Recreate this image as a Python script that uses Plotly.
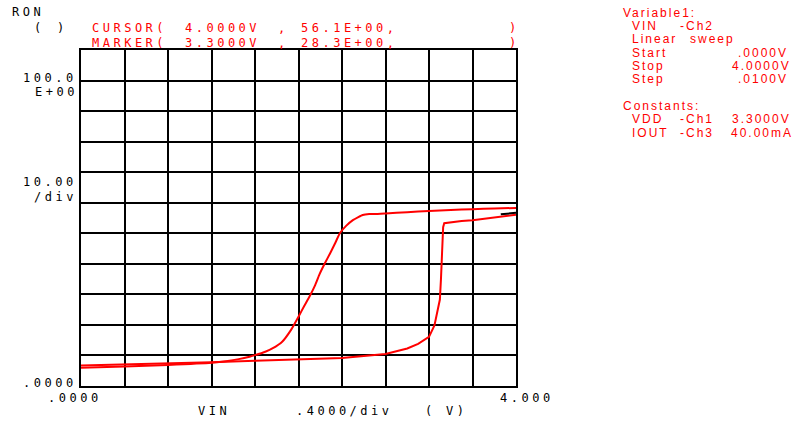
import plotly.graph_objects as go

# ---------------- data ----------------
VIN_A = [0.0, 0.4, 0.8, 1.2, 1.35, 1.45, 1.55, 1.6, 1.7, 1.76, 1.85, 1.93, 2.0, 2.05, 2.1, 2.15, 2.19,
         2.24, 2.29, 2.34, 2.38, 2.44, 2.5, 2.55, 2.59, 2.65, 2.7, 2.8, 3.0, 3.2, 3.4, 3.6, 3.8, 4.0]
RON_A = [6.0, 6.4, 6.9, 7.6, 8.2, 8.8, 9.6, 10.1, 11.3, 12.3, 14.5, 18.3, 22.7, 26.0, 29.2, 32.8, 36.3,
         40.0, 43.4, 47.0, 50.0, 52.5, 54.3, 55.3, 56.0, 56.3, 56.3, 56.5, 56.9, 57.3, 57.6, 57.9, 58.1, 58.3]

VIN_B = [0.0, 0.4, 0.8, 1.2, 1.6, 2.0, 2.4, 2.8, 3.0, 3.1, 3.2, 3.25, 3.28, 3.30, 3.31, 3.32,
         3.33, 3.34, 3.4, 3.5, 3.6, 3.7, 3.8, 3.86, 3.9, 4.0]
RON_B = [6.7, 7.0, 7.4, 7.8, 8.3, 8.7, 9.2, 10.5, 12.3, 13.8, 16.1, 19.8, 24.5, 28.3, 35.0, 42.3,
         52.0, 53.3, 53.6, 54.0, 54.3, 54.8, 55.3, 55.6, 55.7, 56.1]

CURSOR_START_V = 3.86          # black cursor segment start on trace B

X_RANGE = [0.0, 4.0]
X_DIV = 0.4
Y_RANGE = [0.0, 110.0]
Y_DIV = 10.0

Y_LABEL = "RON"
CURSOR_TXT = ["CURSOR(", "4.0000V", ",", "56.1E+00,", ")"]
MARKER_TXT = ["MARKER(", "3.3000V", ",", "28.3E+00,", ")"]
Y_TICK_TOP = ["100.0", "E+00"]
Y_TICK_DIV = ["10.00", "/div"]
Y_TICK_BOTTOM = ".0000"
X_TICK_LEFT = ".0000"
X_TICK_RIGHT = "4.000"
X_TITLE = ["VIN", ".4000/div", "(", "V)"]

PANEL = [
    ("Variable1:", 622.7, 12.7),
    ("VIN", 631.7, 26.0), ("-Ch2", 680.0, 26.0),
    ("Linear", 631.7, 39.3), ("sweep", 690.0, 39.3),
    ("Start", 631.7, 52.7), (".0000V", 738.3, 52.7),
    ("Stop", 631.7, 66.0), ("4.0000V", 731.7, 66.0),
    ("Step", 631.7, 79.3), (".0100V", 738.3, 79.3),
    ("Constants:", 622.7, 106.0),
    ("VDD", 631.7, 119.3), ("-Ch1", 680.0, 119.3), ("3.3000V", 731.7, 119.3),
    ("IOUT", 631.7, 132.7), ("-Ch3", 680.0, 132.7), ("40.00mA", 730.7, 132.7),
]

# ---------------- layout geometry ----------------
W, H = 792, 426
L, R, T, B = 81, 516, 50, 386

RED = "#ff0000"
MONO = "DejaVu Sans Mono"
SANS = "Liberation Sans"


def px(x):
    return (x - L) / (R - L)


def py(y):
    return (B - y) / (B - T)


fig = go.Figure()
fig.add_trace(go.Scatter(x=VIN_B, y=RON_B, mode="lines",
                         line=dict(color=RED, width=2), showlegend=False))
fig.add_trace(go.Scatter(x=VIN_A, y=RON_A, mode="lines", line_shape="spline",
                         line=dict(color=RED, width=2, smoothing=0.4), showlegend=False))
cx = [v for v in VIN_B if v >= CURSOR_START_V]
cy = [r for v, r in zip(VIN_B, RON_B) if v >= CURSOR_START_V]
fig.add_trace(go.Scatter(x=cx, y=[c + 0.6 for c in cy], mode="lines",
                         line=dict(color="#000000", width=2), showlegend=False))

annotations = []


def add(text, x, y, color="#000000", family=MONO, size=12):
    annotations.append(dict(text=text, x=px(x), y=py(y), xref="paper", yref="paper",
                            xanchor="left", yanchor="middle", align="left", showarrow=False,
                            borderpad=0, borderwidth=0,
                            font=dict(family=family, size=size, color=color)))


add(Y_LABEL, 11.7, 12.3)
add("(", 34.0, 28.3)
add(")", 56.5, 28.3)
for txt, x in zip(CURSOR_TXT, [91.7, 185.0, 278.0, 301.0, 509.0]):
    add(txt, x, 28.3, RED)
for txt, x in zip(MARKER_TXT, [91.7, 185.0, 278.0, 301.0, 509.0]):
    add(txt, x, 43.5, RED)
add(Y_TICK_TOP[0], 23.0, 77.7)
add(Y_TICK_TOP[1], 34.5, 92.0)
add(Y_TICK_DIV[0], 22.7, 181.5)
add(Y_TICK_DIV[1], 33.5, 197.0)
add(Y_TICK_BOTTOM, 22.5, 383.3)
add(X_TICK_LEFT, 47.5, 397.5)
add(X_TICK_RIGHT, 500.0, 397.5)
add(X_TITLE[0], 198.0, 410.5)
add(X_TITLE[1], 296.0, 410.5)
add(X_TITLE[2], 425.0, 410.5)
add(X_TITLE[3], 446.0, 410.5)
for txt, x, y in PANEL:
    add(txt, x, y, RED, SANS, 12)

axis_common = dict(showgrid=True, gridcolor="#000000", gridwidth=2,
                   showline=True, linecolor="#000000", linewidth=2, mirror=True,
                   zeroline=False, showticklabels=False, ticks="", fixedrange=True)

fig.update_layout(
    width=W, height=H,
    margin=dict(l=L, r=W - R, t=T, b=H - B, pad=0),
    paper_bgcolor="#ffffff", plot_bgcolor="#ffffff",
    xaxis=dict(range=X_RANGE, dtick=X_DIV, tick0=0, **axis_common),
    yaxis=dict(range=Y_RANGE, dtick=Y_DIV, tick0=0, **axis_common),
    annotations=annotations,
    showlegend=False,
)

post_js = """
document.body.style.margin = '0';
document.body.style.overflow = 'hidden';
var gd = document.getElementById('{plot_id}');
gd.querySelectorAll('g.annotation text.annotation-text').forEach(function(t) {
  var f = t.style.fontFamily || '';
  t.style.letterSpacing = (f.indexOf('Mono') >= 0) ? '3.5px' : '2px';
});
"""

fig.write_html("out.html", post_script=post_js, config={"displayModeBar": False})
